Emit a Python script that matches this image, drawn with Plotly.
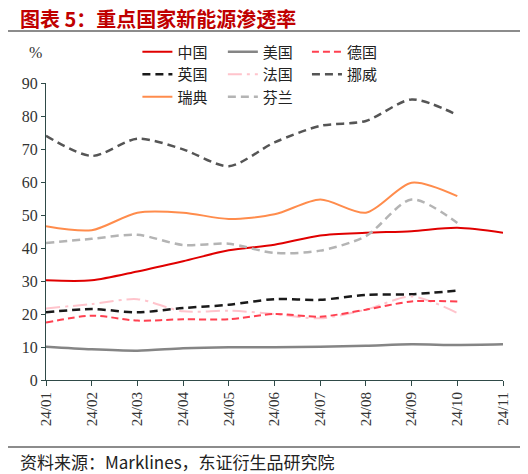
import plotly.graph_objects as go

# months on the x axis
months = ['24/01', '24/02', '24/03', '24/04', '24/05', '24/06',
          '24/07', '24/08', '24/09', '24/10', '24/11']

# penetration rate, %
china = [30.2, 30.2, 32.9, 36.0, 39.3, 41.0, 43.8, 44.6, 45.1, 46.1, 44.6]
usa = [10.1, 9.3, 8.9, 9.6, 9.9, 9.9, 10.1, 10.4, 10.8, 10.6, 10.8]
germany = [17.4, 19.5, 18.0, 18.4, 18.4, 20.0, 19.2, 21.3, 23.8, 23.8]
uk = [20.5, 21.5, 20.5, 21.8, 22.8, 24.5, 24.3, 25.8, 26.0, 27.1]
france = [21.7, 23.0, 24.5, 20.8, 21.0, 20.0, 18.7, 21.3, 25.3, 20.3]
norway = [74.0, 67.9, 73.1, 69.9, 64.8, 72.0, 77.0, 78.5, 85.0, 80.3]
sweden = [46.6, 45.4, 50.7, 50.7, 48.8, 50.2, 54.7, 50.7, 59.8, 55.7]
finland = [41.5, 42.8, 44.0, 40.9, 41.3, 38.5, 39.2, 43.6, 54.7, 47.6]

cjk = 'Noto Sans CJK SC'
serif = 'Liberation Serif'
axis_col = '#2f4a48'

fig = go.Figure()


def add(name, y, color, dash, width, legend):
    fig.add_trace(go.Scatter(
        x=months[:len(y)], y=y, name=name, mode='lines',
        line=dict(color=color, dash=dash, width=width, shape='spline', smoothing=0.8),
        legend=legend))


add('中国', china, '#e00000', 'solid', 2, 'legend')
add('英国', uk, '#1a1a1a', '8px,5px', 2.5, 'legend')
add('瑞典', sweden, '#ff8c4c', 'solid', 2, 'legend')
add('美国', usa, '#858585', 'solid', 2.5, 'legend2')
add('法国', france, '#ffc4cc', '14px,5px,3px,5px', 2, 'legend2')
add('芬兰', finland, '#b4b4b4', '8px,5px', 2.5, 'legend2')
add('德国', germany, '#ff4050', '7px,4px', 2, 'legend3')
add('挪威', norway, '#555555', '8px,5px', 2.5, 'legend3')

leg = dict(orientation='v', yanchor='top', xanchor='left', y=1.16,
           bgcolor='rgba(0,0,0,0)', font=dict(family=cjk, size=15, color='#222'),
           itemwidth=30, tracegroupgap=0)

# the page adds an 8px body margin, so the figure is 8px smaller
fig.update_layout(
    width=520, height=466,
    margin=dict(l=38, r=25, t=75, b=94),
    plot_bgcolor='white', paper_bgcolor='white',
    showlegend=True,
    legend=dict(leg, x=0.20),
    legend2=dict(leg, x=0.387),
    legend3=dict(leg, x=0.571),
    xaxis=dict(
        type='category', range=[0, 10], tickangle=-90,
        showgrid=False, showline=True, linecolor=axis_col, linewidth=1,
        ticks='outside', tickcolor=axis_col, ticklen=5,
        tickfont=dict(family=serif, size=15, color='#333'),
    ),
    yaxis=dict(
        range=[0, 90], dtick=10, showgrid=False, zeroline=False,
        showline=True, linecolor=axis_col, linewidth=1,
        ticks='outside', tickcolor=axis_col, ticklen=4,
        tickfont=dict(family=serif, size=16, color='#333'),
    ),
)

# title, rules and source
fig.add_annotation(text='<b>图表 5：重点国家新能源渗透率</b>', xref='paper', yref='paper',
                   x=-0.062, y=1.218, xanchor='left', yanchor='middle', showarrow=False,
                   font=dict(family=cjk, size=20, color='#c00000'))
fig.add_annotation(text='%', xref='paper', yref='paper', x=-0.005, y=1.104,
                   xanchor='right', yanchor='middle', showarrow=False,
                   font=dict(family=serif, size=16, color='#333'))
fig.add_annotation(text='资料来源：Marklines，东证衍生品研究院', xref='paper', yref='paper',
                   x=-0.062, y=-0.273, xanchor='left', yanchor='middle', showarrow=False,
                   font=dict(family=cjk, size=17, color='#222'))
fig.add_shape(type='line', xref='paper', yref='paper', x0=-0.09, x1=1.044,
              y0=1.175, y1=1.175, line=dict(color='#666', width=1.5))
fig.add_shape(type='line', xref='paper', yref='paper', x0=-0.09, x1=1.044,
              y0=-0.2256, y1=-0.2256, line=dict(color='#666', width=1.5))

fig.write_html("out.html")
